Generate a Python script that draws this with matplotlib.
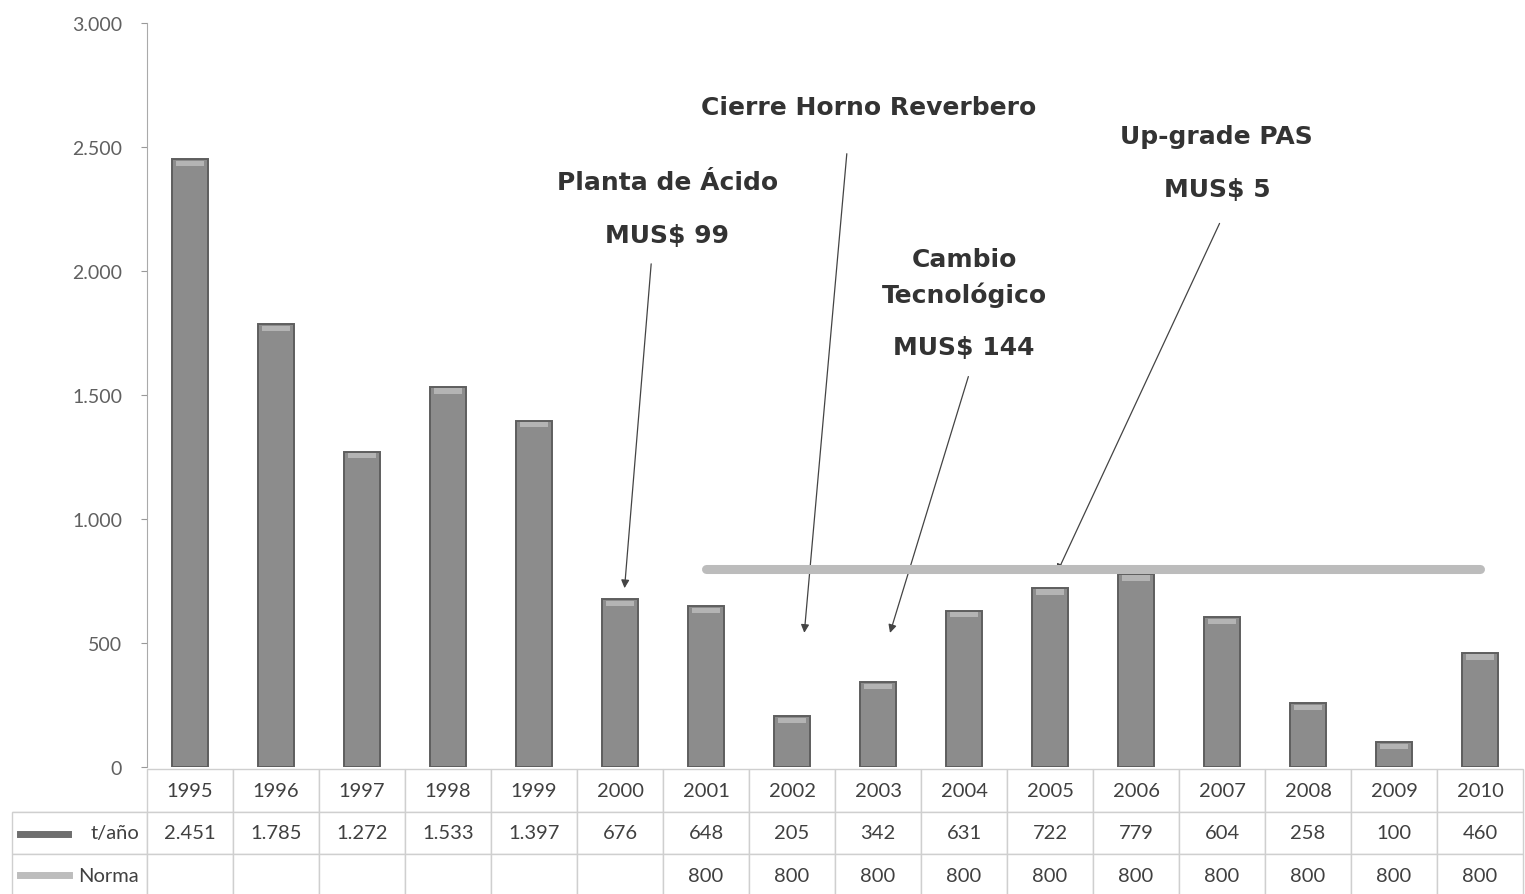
import matplotlib.pyplot as plt
from matplotlib.lines import Line2D
from matplotlib.ticker import FuncFormatter

years = ['1995', '1996', '1997', '1998', '1999', '2000', '2001', '2002',
         '2003', '2004', '2005', '2006', '2007', '2008', '2009', '2010']
emisiones = [2451, 1785, 1272, 1533, 1397, 676, 648, 205,
             342, 631, 722, 779, 604, 258, 100, 460]
norma = [None] * 6 + [800] * 10

fig = plt.figure(figsize=(15.25, 8.95), dpi=100)
ax = fig.add_axes([0.0964, 0.1419, 0.9023, 0.8313])

x = list(range(len(years)))
ax.bar(x, emisiones, width=0.41, color='#8c8c8c', edgecolor='#5e5e5e', linewidth=1.4, zorder=2)
# light cap on top of each column
cap = 22
ax.bar(x, [cap] * len(x), bottom=[v - cap - 6 for v in emisiones], width=0.33,
       color='#b4b4b4', linewidth=0, zorder=3)

nx = [i for i, v in enumerate(norma) if v is not None]
ny = [v for v in norma if v is not None]
ax.plot(nx, ny, color='#bcbcbc', lw=6.5, solid_capstyle='round', zorder=4)

ax.set_xlim(-0.5, 15.5)
ax.set_ylim(0, 3000)
ax.set_yticks(range(0, 3001, 500))
ax.yaxis.set_major_formatter(FuncFormatter(lambda v, p: f'{int(v):,}'.replace(',', '.')))
ax.tick_params(axis='y', labelsize=14, labelcolor='#606060', color='#999999',
               length=4, pad=14)
for lab in ax.get_yticklabels():
    lab.set_family('Lato')
ax.set_xticks([])
for s in ['top', 'right', 'bottom']:
    ax.spines[s].set_visible(False)
ax.spines['left'].set_color('#aaaaaa')

# data table below the plot
header = [''] + years
fila1 = ['t/año'] + [f'{v:,}'.replace(',', '.') for v in emisiones]
fila2 = ['Norma'] + ['' if v is None else str(v) for v in norma]
tab = ax.table(cellText=[header, fila1, fila2],
               colWidths=[135] + [86.1] * 16,
               cellLoc='center', bbox=[-0.098, -0.1747, 1.098, 0.1720])
tab.auto_set_font_size(False)
for (r, c), cell in tab.get_celld().items():
    cell.set_edgecolor('#cfcfcf')
    cell.set_linewidth(1)
    t = cell.get_text()
    t.set_fontsize(14.5)
    t.set_color('#404040')
    t.set_family('Lato')
    if c == 0:
        cell._loc = 'right'
        t.set_horizontalalignment('right')
        cell.PAD = 0.06
        if r == 0:
            cell.visible_edges = 'B'

# legend swatches in the label column
ax.add_line(Line2D([-0.0925, -0.0575], [-0.0900, -0.0900], transform=ax.transAxes,
                   color='#6e6e6e', lw=5, clip_on=False))
ax.add_line(Line2D([-0.0925, -0.057], [-0.1455, -0.1455], transform=ax.transAxes,
                   color='#bdbdbd', lw=5, clip_on=False))

txt = dict(fontsize=18, fontweight='bold', color='#333333', family='DejaVu Sans',
           ha='center', va='center')
arr = dict(arrowstyle='-|>', color='#444444', lw=0.9, mutation_scale=12)

ax.text(5.55, 2359, 'Planta de Ácido', **txt)
ax.text(5.55, 2145, 'MUS$ 99', **txt)
ax.annotate('', xy=(5.05, 710), xytext=(5.365, 2040), arrowprops=arr)

ax.text(7.89, 2661, 'Cierre Horno Reverbero', **txt)
ax.annotate('', xy=(7.14, 530), xytext=(7.64, 2484), arrowprops=arr)

ax.text(9.0, 2048, 'Cambio', **txt)
ax.text(9.0, 1907, 'Tecnológico', **txt)
ax.text(9.0, 1694, 'MUS$ 144', **txt)
ax.annotate('', xy=(8.13, 530), xytext=(9.06, 1585), arrowprops=arr)

ax.text(11.94, 2544, 'Up-grade PAS', **txt)
ax.text(11.94, 2331, 'MUS$ 5', **txt)
ax.annotate('', xy=(10.07, 775), xytext=(11.985, 2202), arrowprops=arr)

fig.savefig('out.png', dpi=100)
